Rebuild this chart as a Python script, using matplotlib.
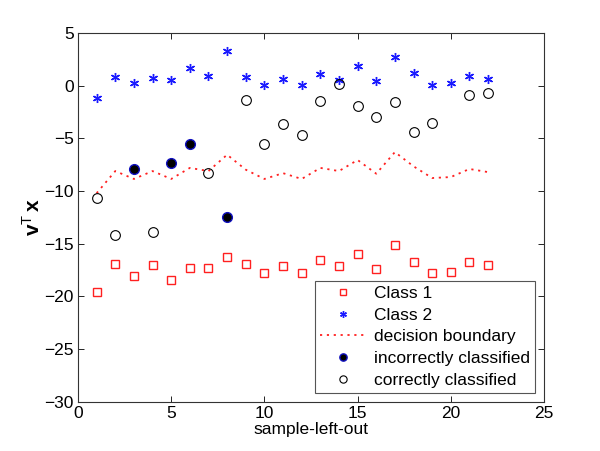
import numpy as np
import matplotlib
matplotlib.use('Agg')
import matplotlib.pyplot as plt

plt.rcParams['font.family'] = ['Liberation Sans', 'DejaVu Sans']
plt.rcParams['mathtext.fontset'] = 'custom'
plt.rcParams['mathtext.rm'] = 'Liberation Sans'
plt.rcParams['mathtext.bf'] = 'Liberation Sans:bold'
plt.rcParams['mathtext.it'] = 'Liberation Sans:italic'

# data
samples = list(range(1, 23))
class1 = [-19.6, -16.95, -18.05, -17.0, -18.4, -17.27, -17.27, -16.3, -16.95, -17.8, -17.08,
          -17.78, -16.57, -17.08, -16.0, -17.4, -15.1, -16.76, -17.74, -17.68, -16.76, -17.05]
class2 = [-1.15, 0.79, 0.25, 0.73, 0.57, 1.68, 0.95, 3.29, 0.79, 0.06, 0.63,
          0.1, 1.14, 0.57, 1.9, 0.41, 2.75, 1.2, 0.06, 0.25, 0.92, 0.6]
boundary = [-10.2, -8.1, -8.85, -8.1, -8.85, -7.8, -8.1, -6.55, -7.97, -8.85, -8.3,
            -8.85, -7.8, -8.1, -7.05, -8.35, -6.3, -7.65, -8.76, -8.67, -7.9, -8.2]
wrong_x = [3, 5, 6, 8]
wrong_y = [-7.87, -7.34, -5.53, -12.45]
right_x = [1, 2, 4, 7, 9, 10, 11, 12, 13, 14, 15, 16, 17, 18, 19, 21, 22]
right_y = [-10.63, -14.14, -13.9, -8.32, -1.36, -5.53, -3.67, -4.68, -1.49, 0.19,
           -1.95, -3.0, -1.58, -4.43, -3.57, -0.85, -0.66]

fig = plt.figure(figsize=(6.0, 4.51), dpi=100)
ax = fig.add_axes([0.13, 0.109, 0.7767, 0.8178])

ax.plot(samples, class1, 's', mfc='none', mec='#ff2020', ms=6, mew=1, label='Class 1')
ax.plot(samples, class2, ls='none', marker=(6, 2, 0), color='#1a1aff', ms=6.5, mew=1, label='Class 2')
ax.plot(samples, boundary, ls=(0, (1.2, 2.6)), color='#ff2020', lw=1.3, label='decision boundary')
ax.plot(wrong_x, wrong_y, 'o', mfc='black', mec='#1010c0', ms=7, mew=1, label='incorrectly classified')
ax.plot(right_x, right_y, 'o', mfc='none', mec='black', ms=7, mew=0.8, label='correctly classified')

ax.set_xlim(0, 25)
ax.set_ylim(-30, 5)
ax.set_xticks(np.arange(0, 26, 5))
ax.set_yticks(np.arange(-30, 6, 5))
ax.tick_params(direction='in', top=True, right=True, labelsize=12.5, length=4, width=0.6, pad=3)
for s in ax.spines.values():
    s.set_linewidth(0.8)
    s.set_color('#333333')

ax.set_xlabel('sample-left-out', fontsize=12.5, labelpad=1)
ax.set_ylabel(r'$\mathbf{v}^{\mathrm{T}}\,\mathbf{x}$', fontsize=15, labelpad=0)

leg = ax.legend(loc='lower right', fontsize=12.5, fancybox=False, framealpha=1,
                edgecolor='#555555', borderpad=0.3, labelspacing=0.38, markerscale=0.75,
                handlelength=2.6, handletextpad=0.5, borderaxespad=0.5)
leg.get_frame().set_linewidth(0.8)

fig.savefig('out.png', dpi=100)
